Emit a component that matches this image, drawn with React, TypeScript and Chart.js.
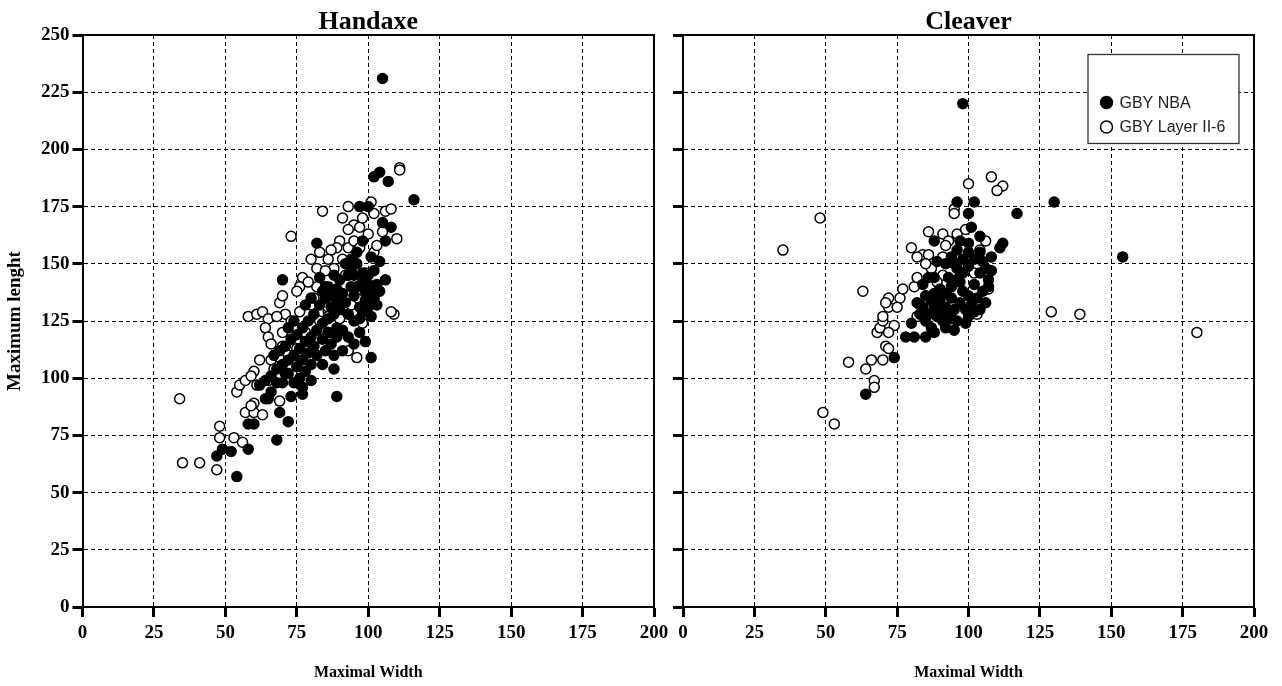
import React, { useEffect, useRef } from 'react';
import { Chart, registerables } from 'chart.js';

Chart.register(...registerables);

const panelTitles = ['Handaxe', 'Cleaver'];
const seriesLabels = ['GBY NBA', 'GBY Layer II-6'];
const xAxisTitle = 'Maximal Width';
const yAxisTitle = 'Maximum lenght';
const xMin = 0;
const xMax = 200;
const xStep = 25;
const yMin = 0;
const yMax = 250;
const yStep = 25;

// Handaxe, GBY NBA (filled)
const handaxeNba: [number, number][] = [
  [105, 231], [102, 188], [104, 190], [107, 186], [116, 178], [97, 175], [100, 175], [105, 168],
  [108, 166], [106, 160], [82, 159], [98, 160], [70, 143], [104, 151], [101, 153],
  [54, 57], [47, 66], [49, 69], [52, 68], [58, 69], [68, 73], [72, 81], [69, 85], [89, 92],
  [58, 80], [60, 80], [65, 91], [77, 93], [73, 92], [99, 116], [101, 109], [88, 110], [88, 104],
  [84, 106], [80, 99], [68, 98], [71, 102], [77, 96], [64, 91],
  [96, 140], [98, 142], [100, 145], [102, 147], [95, 136], [92, 133], [90, 130], [88, 128],
  [86, 126], [84, 124], [82, 121], [80, 118], [78, 116], [76, 113], [74, 110], [72, 108],
  [70, 106], [68, 104], [66, 101], [64, 99], [62, 97], [93, 128], [95, 125], [97, 131],
  [99, 134], [101, 137], [103, 141], [91, 137], [89, 134], [87, 131], [85, 135], [83, 132],
  [81, 128], [79, 125], [77, 122], [75, 119], [73, 117], [71, 114], [69, 112], [67, 110],
  [85, 112], [87, 115], [89, 118], [91, 121], [93, 118], [95, 115], [97, 120], [82, 110],
  [80, 106], [78, 103], [76, 100], [74, 98], [72, 102], [70, 98], [66, 94], [94, 148],
  [96, 150], [98, 146], [100, 141], [102, 135], [104, 138], [106, 143], [98, 129], [94, 140],
  [90, 143], [86, 140], [84, 138], [80, 135], [78, 132], [74, 125], [72, 122], [91, 112],
  [89, 122], [86, 120], [81, 114], [79, 111], [77, 108], [75, 105], [84, 117], [101, 127],
  [103, 132], [99, 138], [93, 145], [88, 145], [96, 155], [94, 152], [92, 150], [85, 140],
  [83, 144], [100, 131], [97, 126], [95, 145], [89, 139], [87, 136],
];

// Handaxe, GBY Layer II-6 (open)
const handaxeLayer: [number, number][] = [
  [34, 91], [35, 63], [41, 63], [47, 60], [48, 79], [48, 74], [53, 74], [56, 72], [57, 85],
  [60, 85], [63, 84], [60, 89], [59, 88], [69, 90], [54, 94], [55, 97], [57, 99], [60, 103],
  [59, 101], [61, 97], [65, 99], [62, 108], [66, 108], [93, 112], [96, 109], [109, 128],
  [58, 127], [61, 128], [63, 129], [65, 126],
  [111, 192], [111, 191], [73, 162], [84, 173], [93, 175], [101, 177], [102, 172], [106, 173],
  [108, 174], [91, 170], [95, 167], [93, 165], [97, 166], [105, 164], [110, 161], [100, 163],
  [90, 160], [89, 157], [93, 157], [87, 156], [102, 155], [80, 152], [86, 152], [91, 152],
  [82, 148], [88, 148], [77, 144], [76, 140], [85, 147], [100, 138], [98, 124], [101, 133],
  [102, 134], [108, 129],
  [69, 133], [70, 136], [75, 138], [64, 122], [65, 118], [66, 115], [70, 114], [69, 109],
  [75, 116], [75, 113], [75, 110], [76, 129], [80, 132], [86, 129], [87, 127], [86, 120],
  [81, 135], [86, 131], [90, 136], [86, 127],
  [83, 155], [95, 160], [97, 157], [92, 145], [96, 135], [82, 140], [79, 142], [71, 128],
  [73, 125], [68, 127], [70, 120], [67, 104], [72, 110], [78, 120], [83, 125], [90, 126],
  [94, 132], [99, 146], [103, 158], [98, 170],
];

// Cleaver, GBY NBA (filled)
const cleaverNba: [number, number][] = [
  [98, 220], [130, 177], [154, 153], [117, 172], [96, 177], [102, 177], [100, 172], [101, 166],
  [104, 162], [100, 159], [88, 160], [112, 159], [111, 157], [108, 153], [105, 151], [95, 150],
  [89, 151], [86, 144], [90, 139], [102, 141], [107, 143],
  [64, 93], [74, 109], [78, 118], [81, 118], [85, 118], [88, 120], [80, 124], [92, 122],
  [96, 125], [100, 127], [102, 129],
  [86, 128], [88, 131], [90, 134], [92, 137], [94, 140], [96, 143], [98, 146], [100, 149],
  [102, 152], [104, 155], [106, 148], [108, 147], [107, 140], [105, 138], [103, 135], [101, 132],
  [99, 130], [97, 133], [95, 130], [93, 127], [91, 125], [89, 127], [87, 134], [85, 136],
  [84, 131], [88, 144], [92, 150], [94, 153], [96, 156], [98, 152], [100, 155], [96, 148],
  [94, 135], [92, 131], [88, 137], [104, 146], [98, 138], [100, 136], [97, 142], [93, 144],
  [91, 128], [85, 125], [87, 122], [95, 121], [99, 124], [104, 130], [106, 133], [97, 160],
  [83, 128], [82, 133], [84, 141], [90, 129], [94, 126],
];

// Cleaver, GBY Layer II-6 (open)
const cleaverLayer: [number, number][] = [
  [35, 156], [48, 170], [49, 85], [53, 80], [58, 107], [64, 104], [66, 108], [67, 99], [67, 96],
  [70, 108], [71, 114], [72, 113], [68, 120], [69, 122], [70, 125], [74, 123], [72, 120],
  [72, 135], [72, 131], [76, 135], [63, 138], [77, 139], [81, 140], [82, 144], [180, 120],
  [129, 129], [139, 128], [103, 128], [107, 139], [108, 188], [112, 184], [110, 182], [100, 185],
  [95, 174], [95, 172], [86, 164], [91, 163], [96, 163], [93, 160], [80, 157], [84, 154],
  [86, 154], [104, 156], [96, 143], [87, 148], [91, 145], [83, 132], [82, 127], [82, 153],
  [91, 153], [99, 165], [85, 150], [89, 142], [92, 158], [102, 146], [106, 160], [71, 133],
  [75, 131], [70, 127],
];

const SERIF = '"Liberation Serif", "Times New Roman", serif';
const SANS = '"Liberation Sans", Arial, sans-serif';

type PanelOpts = {
  title: string;
  nba: [number, number][];
  layer: [number, number][];
  showYLabels: boolean;
  yAxisWidth: number;
  padRight: number;
  legend: boolean;
};

function makeConfig(o: PanelOpts): any {
  const decorPlugin = {
    id: 'decor',
    afterDraw(chart: any) {
      const { ctx, chartArea } = chart;
      const { left, right, top, bottom } = chartArea;
      ctx.save();
      ctx.strokeStyle = '#000';
      ctx.lineWidth = 2;
      ctx.setLineDash([]);
      ctx.beginPath();
      ctx.moveTo(left, top);
      ctx.lineTo(right, top);
      ctx.lineTo(right, bottom);
      ctx.stroke();
      ctx.fillStyle = '#000';
      ctx.font = `bold 26px ${SERIF}`;
      ctx.textAlign = 'center';
      ctx.textBaseline = 'middle';
      ctx.fillText(o.title, (left + right) / 2, 22);
      if (o.legend) {
        const bx = left + 405;
        const by = 54.5;
        const bw = 151;
        const bh = 89;
        ctx.fillStyle = '#fff';
        ctx.fillRect(bx, by, bw, bh);
        ctx.strokeStyle = '#333';
        ctx.lineWidth = 1.3;
        ctx.strokeRect(bx, by, bw, bh);
        const rows = [
          { y: by + 48, fill: '#000' },
          { y: by + 72.5, fill: '#fff' },
        ];
        rows.forEach((r, i) => {
          ctx.beginPath();
          ctx.arc(bx + 18.5, r.y, 6, 0, Math.PI * 2);
          ctx.fillStyle = r.fill;
          ctx.fill();
          ctx.lineWidth = 1.5;
          ctx.strokeStyle = '#000';
          ctx.stroke();
          ctx.fillStyle = '#222';
          ctx.font = `16px ${SANS}`;
          ctx.textAlign = 'left';
          ctx.textBaseline = 'middle';
          ctx.fillText(seriesLabels[i], bx + 31.5, r.y + 1);
        });
      }
      ctx.restore();
    },
  };

  return {
    type: 'scatter',
    data: {
      datasets: [
        {
          label: seriesLabels[1],
          data: o.layer.map(([x, y]) => ({ x, y })),
          backgroundColor: '#fff',
          borderColor: '#000',
          borderWidth: 1.5,
          pointRadius: 5,
          pointHoverRadius: 5,
          order: 2,
        },
        {
          label: seriesLabels[0],
          data: o.nba.map(([x, y]) => ({ x, y })),
          backgroundColor: '#000',
          borderColor: '#000',
          borderWidth: 1.5,
          pointRadius: 5,
          pointHoverRadius: 5,
          order: 1,
        },
      ],
    },
    options: {
      responsive: false,
      animation: false,
      events: [],
      layout: { padding: { top: 35, right: o.padRight, bottom: 0, left: 0 } },
      plugins: {
        legend: { display: false },
        tooltip: { enabled: false },
        title: { display: false },
      },
      scales: {
        x: {
          type: 'linear',
          position: 'bottom',
          min: xMin,
          max: xMax,
          ticks: {
            stepSize: xStep,
            color: '#000',
            font: { family: SERIF, size: 19, weight: 'bold' },
            padding: 5,
            maxRotation: 0,
            autoSkip: false,
          },
          grid: {
            color: '#000',
            lineWidth: 1,
            drawTicks: true,
            tickLength: 10,
            tickWidth: 3,
            tickColor: '#000',
          },
          border: { display: true, color: '#000', width: 2, dash: [4, 3] },
          title: {
            display: true,
            text: xAxisTitle,
            color: '#000',
            font: { family: SERIF, size: 16, weight: 'bold' },
            padding: { top: 0, bottom: 4 },
          },
          afterFit: (s: any) => {
            s.height = 79;
          },
        },
        y: {
          type: 'linear',
          position: 'left',
          min: yMin,
          max: yMax,
          ticks: {
            display: o.showYLabels,
            stepSize: yStep,
            color: '#000',
            font: { family: SERIF, size: 19, weight: 'bold' },
            padding: 3,
          },
          grid: {
            color: '#000',
            lineWidth: 1,
            drawTicks: true,
            tickLength: 10,
            tickWidth: 3,
            tickColor: '#000',
          },
          border: { display: true, color: '#000', width: 2, dash: [4, 3] },
          title: {
            display: o.showYLabels,
            text: yAxisTitle,
            color: '#000',
            font: { family: SERIF, size: 19, weight: 'bold' },
            padding: { top: 4, bottom: 0 },
          },
          afterFit: (s: any) => {
            s.width = o.yAxisWidth;
          },
        },
      },
    },
    plugins: [decorPlugin],
  };
}

export default function App() {
  const leftRef = useRef<HTMLCanvasElement | null>(null);
  const rightRef = useRef<HTMLCanvasElement | null>(null);

  useEffect(() => {
    const charts: Chart[] = [];
    if (leftRef.current) {
      charts.push(
        new Chart(
          leftRef.current,
          makeConfig({
            title: panelTitles[0],
            nba: handaxeNba,
            layer: handaxeLayer,
            showYLabels: true,
            yAxisWidth: 82.5,
            padRight: 26,
            legend: false,
          })
        )
      );
    }
    if (rightRef.current) {
      charts.push(
        new Chart(
          rightRef.current,
          makeConfig({
            title: panelTitles[1],
            nba: cleaverNba,
            layer: cleaverLayer,
            showYLabels: false,
            yAxisWidth: 19,
            padRight: 28,
            legend: true,
          })
        )
      );
    }
    return () => {
      charts.forEach((c) => c.destroy());
    };
  }, []);

  return (
    <div style={{ position: 'absolute', left: 0, top: 0, width: 1282, height: 686, background: '#fff' }}>
      <canvas
        ref={leftRef}
        width={680}
        height={686}
        style={{ position: 'absolute', left: 0, top: 0, width: 680, height: 686 }}
      />
      <canvas
        ref={rightRef}
        width={618}
        height={686}
        style={{ position: 'absolute', left: 664, top: 0, width: 618, height: 686 }}
      />
    </div>
  );
}
